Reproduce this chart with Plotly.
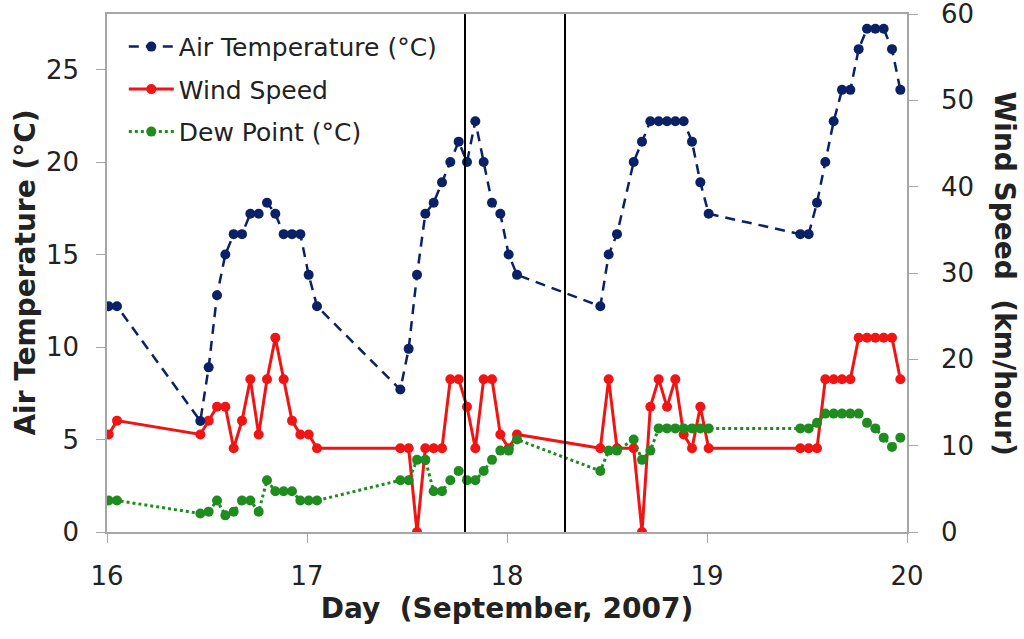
import plotly.graph_objects as go

# Hours counted from 16 September 2007, 00:00
hours = [0.2, 1.2,
         11.2, 12.2, 13.2, 14.2, 15.2, 16.2, 17.2, 18.2, 19.2, 20.2, 21.2, 22.2, 23.2, 24.2, 25.2,
         35.2, 36.2, 37.2, 38.2, 39.2, 40.2, 41.2, 42.2, 43.2, 44.2, 45.2, 46.2, 47.2, 48.2, 49.2,
         59.2, 60.2, 61.2,
         63.2, 64.2, 65.2, 66.2, 67.2, 68.2, 69.2, 70.2, 71.2, 72.2,
         83.2, 84.2, 85.2, 86.2, 87.2, 88.2, 89.2, 90.2, 91.2, 92.2, 93.2, 94.2, 95.2]

air_temp = [12.2, 12.2,
            6.0, 8.9, 12.8, 15.0, 16.1, 16.1, 17.2, 17.2, 17.8, 17.2, 16.1, 16.1, 16.1, 13.9, 12.2,
            7.7, 9.9, 13.9, 17.2, 17.8, 18.9, 20.0, 21.1, 20.0, 22.2, 20.0, 17.8, 17.2, 15.0, 13.9,
            12.2, 15.0, 16.1,
            20.0, 21.1, 22.2, 22.2, 22.2, 22.2, 22.2, 21.1, 18.9, 17.2,
            16.1, 16.1, 17.8, 20.0, 22.2, 23.9, 23.9, 26.1, 27.2, 27.2, 27.2, 26.1, 23.9]

wind_speed = [11.3, 12.9,
              11.3, 12.9, 14.5, 14.5, 9.7, 12.9, 17.7, 11.3, 17.7, 22.5, 17.7, 12.9, 11.3, 11.3, 9.7,
              9.7, 9.7, 0.0, 9.7, 9.7, 9.7, 17.7, 17.7, 14.5, 9.7, 17.7, 17.7, 11.3, 9.7, 11.3,
              9.7, 17.7, 9.7,
              9.7, 0.0, 14.5, 17.7, 14.5, 17.7, 11.3, 9.7, 14.5, 9.7,
              9.7, 9.7, 9.7, 17.7, 17.7, 17.7, 17.7, 22.5, 22.5, 22.5, 22.5, 22.5, 17.7]

dew_point = [1.7, 1.7,
             1.0, 1.1, 1.7, 0.9, 1.1, 1.7, 1.7, 1.1, 2.8, 2.2, 2.2, 2.2, 1.7, 1.7, 1.7,
             2.8, 2.8, 3.9, 3.9, 2.2, 2.2, 2.8, 3.3, 2.8, 2.8, 3.3, 3.9, 4.4, 4.4, 5.0,
             3.3, 4.4, 4.4,
             5.0, 3.9, 4.4, 5.6, 5.6, 5.6, 5.6, 5.6, 5.6, 5.6,
             5.6, 5.6, 5.9, 6.4, 6.4, 6.4, 6.4, 6.4, 5.9, 5.6, 5.1, 4.6, 5.1]

day_ticks = [16, 17, 18, 19, 20]
temp_ticks = [0, 5, 10, 15, 20, 25]
wind_ticks = [0, 10, 20, 30, 40, 50, 60]
marker_days = [17.79, 18.29]

days = [16 + h / 24 for h in hours]

FONT = "DejaVu Sans"
AIR_C = "#0B2166"
WIND_C = "#F01414"
DEW_C = "#1E8C1E"
AXIS_C = "#A6A6A6"
TXT_C = "#222222"

fig = go.Figure()

fig.add_trace(go.Scatter(
    x=days, y=wind_speed, name="Wind Speed", yaxis="y", mode="lines+markers",
    line=dict(color=WIND_C, width=3), marker=dict(color=WIND_C, size=10),
    legendrank=2, legendgroup="w"))
fig.add_trace(go.Scatter(
    x=days, y=dew_point, name="Dew Point (°C)", yaxis="y2", mode="lines+markers",
    line=dict(color=DEW_C, width=3, dash="dot"), marker=dict(color=DEW_C, size=10),
    legendrank=3, legendgroup="d"))
fig.add_trace(go.Scatter(
    x=days, y=air_temp, name="Air Temperature (°C)", yaxis="y2", mode="lines+markers",
    line=dict(color=AIR_C, width=2.5, dash="10px,7px"), marker=dict(color=AIR_C, size=10),
    legendrank=1, legendgroup="a"))

for d in marker_days:
    fig.add_shape(type="line", xref="x", yref="paper", x0=d, x1=d, y0=0, y1=1,
                  line=dict(color="black", width=2))

fig.update_layout(
    width=1024, height=639,
    margin=dict(l=107, r=117, t=14, b=107),
    paper_bgcolor="white", plot_bgcolor="white",
    font=dict(family=FONT, color=TXT_C, size=24),
    showlegend=True,
    legend=dict(x=0.021, y=0.981, xanchor="left", yanchor="top",
                bgcolor="rgba(0,0,0,0)", font=dict(family=FONT, size=25, color=TXT_C),
                tracegroupgap=7, itemwidth=45, traceorder="grouped"),
    xaxis=dict(range=[16, 20], tickvals=day_ticks, ticktext=[str(t) for t in day_ticks],
               showgrid=False, zeroline=False, showline=True, linecolor=AXIS_C, linewidth=1.5,
               mirror=True, ticks="outside", ticklen=9, tickcolor=AXIS_C,
               ticklabelstandoff=11, automargin=False,
               tickfont=dict(size=26, family=FONT, color=TXT_C),
               title=dict(text="<b>Day  (September, 2007)</b>",
                          font=dict(size=28, family=FONT, color=TXT_C), standoff=8)),
    yaxis=dict(range=[0, 60], tickvals=wind_ticks, side="right",
               showgrid=False, zeroline=False, showline=True, linecolor=AXIS_C, linewidth=1.5,
               ticks="outside", ticklen=9, tickcolor=AXIS_C,
               ticklabelstandoff=18, automargin=False, ticklabeloverflow="allow",
               tickfont=dict(size=26, family=FONT, color=TXT_C)),
    yaxis2=dict(range=[0, 28], tickvals=temp_ticks, side="left", overlaying="y",
                showgrid=False, zeroline=False, showline=True, linecolor=AXIS_C, linewidth=1.5,
                ticks="outside", ticklen=9, tickcolor=AXIS_C,
                ticklabelstandoff=12, automargin=False, ticklabeloverflow="allow",
                tickfont=dict(size=26, family=FONT, color=TXT_C)),
    annotations=[
        dict(text="<b>Air Temperature (°C)</b>", xref="paper", yref="paper",
             x=-0.103, y=0.5, textangle=-90, showarrow=False, xanchor="center", yanchor="middle",
             font=dict(size=28, family=FONT, color=TXT_C)),
        dict(text="<b>Wind Speed  (km/hour)</b>", xref="paper", yref="paper",
             x=1.122, y=0.5, textangle=90, showarrow=False, xanchor="center", yanchor="middle",
             font=dict(size=28, family=FONT, color=TXT_C)),
    ],
)

fig.write_html("out.html",
               config={"displayModeBar": False},
               post_script="document.body.style.margin='0';document.body.style.overflow='hidden';")
